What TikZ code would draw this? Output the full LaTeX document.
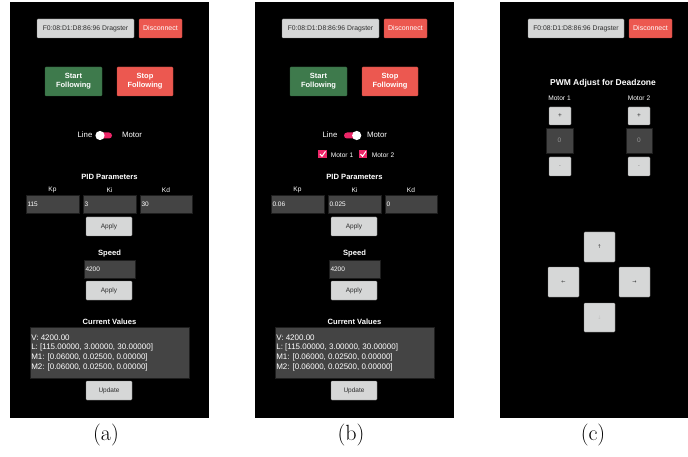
\documentclass[tikz,border=0pt]{standalone}
\usepackage{fontspec}
\newfontfamily\ui{Liberation Sans}
\newfontfamily\sym{DejaVu Sans}
\definecolor{btngray}{RGB}{214,215,215}
\definecolor{btnedge}{RGB}{120,120,120}
\definecolor{btnred}{RGB}{236,88,80}
\definecolor{btngreen}{RGB}{62,122,76}
\definecolor{boxgray}{RGB}{68,68,68}
\definecolor{boxedge}{RGB}{30,30,30}
\definecolor{accentpink}{RGB}{236,38,104}
\definecolor{txtdark}{RGB}{45,45,45}
\definecolor{txtlight}{RGB}{150,150,150}
\tikzset{
  every node/.style={inner sep=0pt, outer sep=0pt},
  lbtn/.style={fill=btngray, draw=btnedge, line width=0.4pt, rounded corners=0.8pt, text=txtdark, font=\ui\fontsize{6.5}{7}\selectfont},
  redbtn/.style={fill=btnred, draw=btnred!80!black, line width=0.4pt, rounded corners=0.8pt, text=white},
  greenbtn/.style={fill=btngreen, draw=btngreen!80!black, line width=0.4pt, rounded corners=0.8pt, text=white},
  tbox/.style={fill=boxgray, draw=boxedge, line width=0.4pt, text=white, font=\ui\fontsize{6.5}{7}\selectfont},
  wlabel/.style={text=white, font=\ui\fontsize{6.6}{7}\selectfont},
  whead/.style={text=white, font=\ui\bfseries\fontsize{7.6}{8}\selectfont},
  tval/.style={text=white, font=\ui\fontsize{6.5}{7}\selectfont, anchor=west},
  capt/.style={font=\fontsize{22}{22}\selectfont, anchor=base},
  arrowglyph/.style={font=\sym\fontsize{5}{5}\selectfont, text=txtdark}
}
\newcommand\uicommon[1]{%
  \fill[black] (10,2) rectangle (209,418);
  \node[lbtn, minimum width=97, minimum height=19, font=\ui\fontsize{6.8}{7}\selectfont] (addr#1) at (85.5,28.5) {F0:08:D1:D8:86:96 Dragster};
  \node[redbtn, minimum width=43, minimum height=19, font=\ui\fontsize{7}{7}\selectfont] (disc#1) at (160.5,28.5) {Disconnect};
  \node[greenbtn, minimum width=57, minimum height=29, align=center, font=\ui\bfseries\fontsize{7.5}{9.2}\selectfont] (start#1) at (73.5,81.5) {Start\\Following};
  \node[redbtn, minimum width=56, minimum height=29, align=center, font=\ui\bfseries\fontsize{7.5}{9.2}\selectfont] (stop#1) at (145,81.5) {Stop\\Following};
  \node[wlabel, font=\ui\fontsize{7.8}{8}\selectfont] (line#1) at (85,135) {Line};
  \node[wlabel, font=\ui\fontsize{7.8}{8}\selectfont] (motor#1) at (132,135) {Motor};
  \node[whead] (pid#1) at (109.5,177) {PID Parameters};
  \node[wlabel] (kp#1) at (52.5,190) {Kp};
  \node[wlabel] (ki#1) at (109.5,190) {Ki};
  \node[wlabel] (kd#1) at (166,190) {Kd};
  \node[tbox, minimum width=53, minimum height=18] (tb1#1) at (52.5,204) {};
  \node[tbox, minimum width=53, minimum height=18] (tb2#1) at (109.5,204) {};
  \node[tbox, minimum width=52, minimum height=18] (tb3#1) at (166,204) {};
  \node[lbtn, minimum width=46, minimum height=19] (apply1#1) at (109,226.5) {Apply};
  \node[whead] (speed#1) at (109.5,254) {Speed};
  \node[tbox, minimum width=51, minimum height=18] (tbs#1) at (109.5,269) {};
  \node[tval] (sval#1) at (85.5,269) {4200};
  \node[lbtn, minimum width=46, minimum height=19] (apply2#1) at (109,290.5) {Apply};
  \node[whead] (cur#1) at (109.5,322) {Current Values};
  \node[tbox, minimum width=159, minimum height=51] (vals#1) at (109.5,352.5) {};
  \node[tval, align=left, font=\ui\fontsize{8}{9.6}\selectfont] (valtxt#1) at (31.3,352.7) {V: 4200.00\\L: [115.00000, 3.00000, 30.00000]\\M1: [0.06000, 0.02500, 0.00000]\\M2: [0.06000, 0.02500, 0.00000]};
  \node[lbtn, minimum width=46, minimum height=19] (upd#1) at (109,390.5) {Update};
}
\begin{document}
\begin{tikzpicture}[x=1pt, y=-1pt]
\useasboundingbox (0,0) rectangle (688,457);
\fill[white] (0,0) rectangle (688,457);
% ---------- panel (a)
\uicommon{A}
\fill[accentpink, rounded corners=3pt] (99,132.5) rectangle (112,138.5);
\fill[white] (100,135.5) circle (4.6);
\node[tval] (v1A) at (27.5,204) {115};
\node[tval] (v2A) at (84.5,204) {3};
\node[tval] (v3A) at (141.5,204) {30};
\node[capt] (capA) at (106,440.5) {(a)};
% ---------- panel (b)
\begin{scope}[shift={(245,0)}]
\uicommon{B}
\fill[accentpink, rounded corners=3pt] (99,132.5) rectangle (112,138.5);
\fill[white] (111.7,135.5) circle (4.6);
\node[tval] (v1B) at (27.5,204) {0.06};
\node[tval] (v2B) at (84.5,204) {0.025};
\node[tval] (v3B) at (141.5,204) {0};
\node[fill=accentpink, minimum width=8.5, minimum height=8.5] (cb1) at (77.5,154) {};
\node[fill=accentpink, minimum width=8.5, minimum height=8.5] (cb2) at (118,154) {};
\draw[white, line width=1pt] (75,154) -- (77,156.3) -- (80.5,151.4);
\draw[white, line width=1pt] (115.5,154) -- (117.5,156.3) -- (121,151.4);
\node[wlabel] (m1B) at (97,155) {Motor 1};
\node[wlabel] (m2B) at (138,155) {Motor 2};
\node[capt] (capB) at (106,440.5) {(b)};
\end{scope}
% ---------- panel (c)
\begin{scope}
\clip (0,0) rectangle (688,457);
\fill[black] (500,2) rectangle (699,418);
\end{scope}
\node[lbtn, minimum width=96, minimum height=19, font=\ui\fontsize{6.8}{7}\selectfont] (addrC) at (576,28.5) {F0:08:D1:D8:86:96 Dragster};
\node[redbtn, minimum width=43, minimum height=19, font=\ui\fontsize{7}{7}\selectfont] (discC) at (650.5,28.5) {Disconnect};
\node[whead, font=\ui\bfseries\fontsize{8.5}{9}\selectfont] (pwm) at (603,83) {PWM Adjust for Deadzone};
\node[wlabel] (mot1C) at (559.5,98) {Motor 1};
\node[wlabel] (mot2C) at (639,98) {Motor 2};
\node[lbtn, minimum width=22, minimum height=18] (plus1) at (560,116) {+};
\node[lbtn, minimum width=22, minimum height=18] (plus2) at (639,116) {+};
\node[tbox, minimum width=27, minimum height=25, text=txtlight] (zero1) at (559.5,140.5) {0};
\node[tbox, minimum width=26, minimum height=25, text=txtlight] (zero2) at (639,140.5) {0};
\node[lbtn, minimum width=22, minimum height=19, text=txtlight] (minus1) at (560,166.5) {-};
\node[lbtn, minimum width=22, minimum height=19, text=txtlight] (minus2) at (639,166.5) {-};
\node[lbtn, minimum width=31, minimum height=30] (up) at (599.5,247) {};
\node[lbtn, minimum width=31, minimum height=30] (left) at (563.5,282) {};
\node[lbtn, minimum width=31, minimum height=30] (right) at (634.5,282) {};
\node[lbtn, minimum width=31, minimum height=29] (down) at (599.5,317.5) {};
\node[arrowglyph] (upg) at (up) {↑};
\node[arrowglyph] (leftg) at (left) {←};
\node[arrowglyph] (rightg) at (right) {→};
\node[arrowglyph, text=txtlight!60] (downg) at (down) {↓};
\node[capt] (capC) at (593,440.5) {(c)};
\end{tikzpicture}
\end{document}
